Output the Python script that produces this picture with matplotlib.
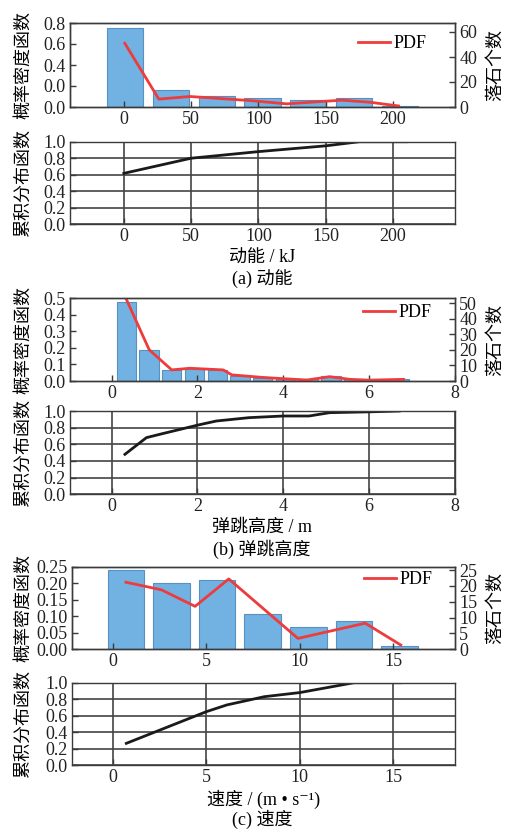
import matplotlib
matplotlib.use('Agg')
import matplotlib.pyplot as plt

plt.rcParams['font.family'] = ['Liberation Serif', 'Noto Sans CJK SC', 'DejaVu Sans']
plt.rcParams['axes.unicode_minus'] = False

# (a) 动能
energy_bins = [0.7, 35, 69, 103, 137, 171, 205]
energy_counts = [63, 14, 9, 7, 6, 7, 1]
energy_pdf_x = [0.7, 26, 49, 69, 95, 121, 150, 162, 183, 204]
energy_pdf_y = [0.607, 0.075, 0.10, 0.083, 0.06, 0.03, 0.055, 0.065, 0.045, 0.01]
energy_cdf_x = [0, 50, 100, 150, 175, 210]
energy_cdf_y = [0.617, 0.80, 0.88, 0.95, 1.0, 1.0]

# (b) 弹跳高度
height_bins = [0.34, 0.87, 1.40, 1.93, 2.46, 2.99, 3.52, 4.05, 4.58, 5.11, 5.64, 6.17, 6.70]
height_counts = [51, 20, 7, 8, 7, 3, 2, 1, 1, 3, 1, 1, 1]
height_pdf_x = [0.28, 0.875, 1.40, 1.82, 2.6, 2.8, 3.5, 4.0, 4.55, 5.08, 5.55, 6.0, 6.8]
height_pdf_y = [0.53, 0.189, 0.067, 0.077, 0.067, 0.037, 0.022, 0.014, 0.006, 0.026, 0.01, 0.005, 0.01]
height_cdf_x = [0.31, 0.81, 1.12, 2.0, 2.44, 3.2, 4.0, 4.6, 5.08, 6.0, 6.7]
height_cdf_y = [0.48, 0.68, 0.72, 0.83, 0.88, 0.92, 0.94, 0.94, 0.98, 0.99, 1.0]

# (c) 速度
speed_bins = [0.70, 3.14, 5.58, 8.02, 10.46, 12.90, 15.34]
speed_counts = [25, 21, 22, 11, 7, 9, 1]
speed_pdf_x = [0.7, 2.6, 4.4, 6.2, 9.9, 13.5, 15.4]
speed_pdf_y = [0.203, 0.18, 0.13, 0.213, 0.033, 0.079, 0.013]
speed_cdf_x = [0.72, 5.0, 6.1, 8.1, 10.0, 12.9, 15.4]
speed_cdf_y = [0.263, 0.648, 0.73, 0.83, 0.88, 1.0, 1.0]

W, H = 510, 832
FS = 13
BAR_FACE = '#72b2e2'
BAR_EDGE = '#5a8fc0'
RED = '#ee3b3b'
SPINE = '#3a3a3a'

fig = plt.figure(figsize=(W / 100, H / 100), dpi=100)


def px_axes(left, top, right, bottom):
    return fig.add_axes([left / W, 1 - bottom / H, (right - left) / W, (bottom - top) / H])


def style_axis(ax):
    for s in ax.spines.values():
        s.set_color(SPINE)
        s.set_linewidth(1.0)
    ax.tick_params(direction='in', length=4, width=1, colors=SPINE,
                   labelcolor='#222222', labelsize=FS, pad=3)


def top_panel(box, bins, counts, width, pdf_x, pdf_y, xlim, xticks,
              ylim, yticks, yticklabels, y2lim, y2ticks, leg_xy):
    ax = px_axes(*box)
    ax2 = ax.twinx()
    ax2.bar(bins, counts, width=width, color=BAR_FACE, edgecolor=BAR_EDGE, linewidth=0.8)
    ax2.set_ylim(*y2lim)
    ax2.set_yticks(y2ticks)
    ax.plot(pdf_x, pdf_y, color=RED, lw=2, label='PDF')
    ax.set_zorder(ax2.get_zorder() + 1)
    ax.patch.set_visible(False)
    ax.set_xlim(*xlim)
    ax.set_xticks(xticks)
    ax.set_ylim(*ylim)
    ax.set_yticks(yticks)
    ax.set_yticklabels(yticklabels)
    style_axis(ax)
    style_axis(ax2)
    ax.set_ylabel('概率密度函数', fontsize=FS)
    ax.yaxis.set_label_coords((32 - box[0]) / (box[2] - box[0]), 0.5)
    ax2.set_ylabel('落石个数', fontsize=FS)
    ax2.yaxis.set_label_coords((487 - box[0]) / (box[2] - box[0]), 0.5)
    ax.legend(loc='center right', bbox_to_anchor=leg_xy, frameon=False, fontsize=FS,
              borderpad=0, handlelength=1.8, handletextpad=0.2)
    return ax


def cdf_panel(box, cdf_x, cdf_y, xlim, xticks, xlabel, label_y, caption, caption_y):
    ax = px_axes(*box)
    ax.plot(cdf_x, cdf_y, color='#1a1a1a', lw=2)
    ax.set_xlim(*xlim)
    ax.set_xticks(xticks)
    ax.set_ylim(0, 1)
    ax.set_yticks([0, 0.2, 0.4, 0.6, 0.8, 1.0])
    ax.set_yticklabels(['0.0', '0.2', '0.4', '0.6', '0.8', '1.0'])
    ax.grid(True, color='#444444', lw=1.2)
    ax.set_axisbelow(True)
    style_axis(ax)
    ax.set_ylabel('累积分布函数', fontsize=FS)
    ax.yaxis.set_label_coords((32 - box[0]) / (box[2] - box[0]), 0.5)
    ax.set_xlabel(xlabel, fontsize=FS, va='center')
    ax.xaxis.set_label_coords(0.5, (box[3] - label_y) / (box[3] - box[1]))
    fig.text(262 / W, 1 - caption_y / H, caption, fontsize=FS, ha='center', va='center')
    return ax


# (a)
top_panel((70, 23, 455, 107), energy_bins, energy_counts, 27, energy_pdf_x, energy_pdf_y,
          (-40, 246), [0, 50, 100, 150, 200],
          (0, 0.8), [0, 0.2, 0.4, 0.6, 0.8], ['0.0', '0.0', '0.4', '0.6', '0.8'],
          (0, 67.2), [0, 20, 40, 60], (0.95, 0.758))
cdf_panel((70, 141.7, 455, 224.3), energy_cdf_x, energy_cdf_y,
          (-40, 246), [0, 50, 100, 150, 200], '动能 / kJ', 258, '(a) 动能', 279)

# (b)
top_panel((70, 298.3, 455, 381), height_bins, height_counts, 0.45, height_pdf_x, height_pdf_y,
          (-0.97, 8), [0, 2, 4, 6, 8],
          (0, 0.5), [0, 0.1, 0.2, 0.3, 0.4, 0.5], ['0.0', '0.1', '0.2', '0.3', '0.4', '0.5'],
          (0, 53.2), [0, 10, 20, 30, 40, 50], (0.963, 0.83))
cdf_panel((70, 411, 455, 494.3), height_cdf_x, height_cdf_y,
          (-0.97, 8), [0, 2, 4, 6, 8], '弹跳高度 / m', 527, '(b) 弹跳高度', 549)

# (c)
top_panel((71.7, 566.7, 455, 649.3), speed_bins, speed_counts, 1.96, speed_pdf_x, speed_pdf_y,
          (-2.2, 18.3), [0, 5, 10, 15],
          (0, 0.25), [0, 0.05, 0.1, 0.15, 0.2, 0.25],
          ['0.00', '0.05', '0.10', '0.15', '0.20', '0.25'],
          (0, 26.05), [0, 5, 10, 15, 20, 25], (0.966, 0.84))
cdf_panel((71.7, 682.7, 455, 765), speed_cdf_x, speed_cdf_y,
          (-2.2, 18.3), [0, 5, 10, 15], '速度 / (m • s⁻¹)', 799, '(c) 速度', 819)

fig.savefig('out.png', dpi=100)
plt.close(fig)
